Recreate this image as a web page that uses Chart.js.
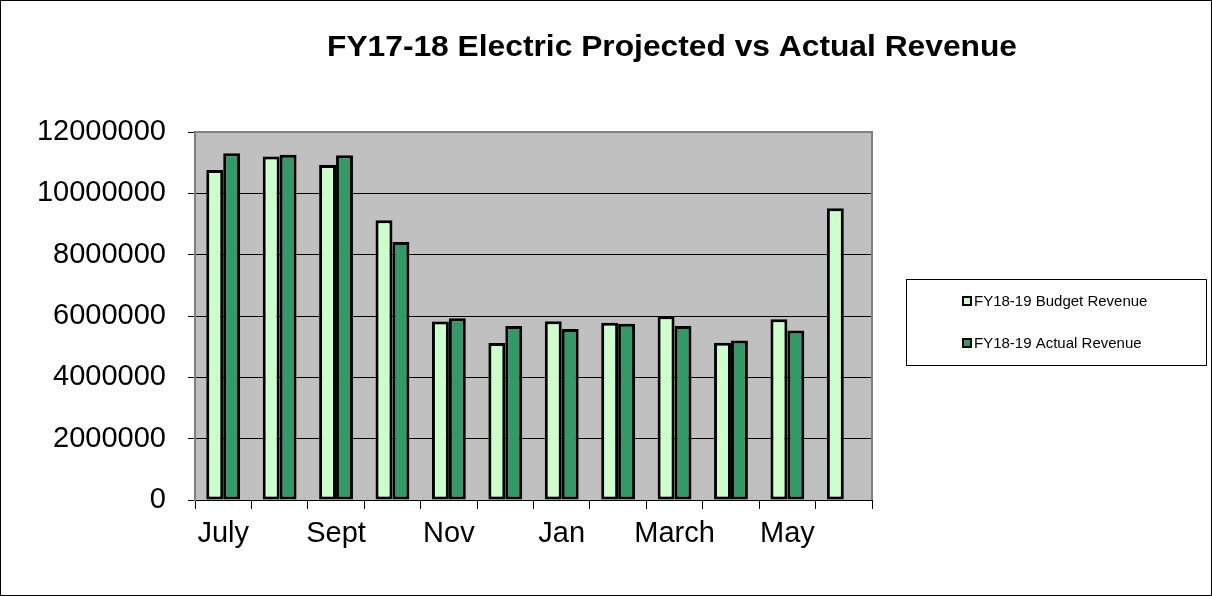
<!DOCTYPE html>
<html>
<head>
<meta charset="utf-8">
<script src="https://cdn.jsdelivr.net/npm/chart.js@4.4.0/dist/chart.umd.min.js"></script>
<style>
body { margin: 0; background: #fff; }
canvas { display: block; }
</style>
</head>
<body>
<canvas id="revenueChart" width="1212" height="596"></canvas>
<script>
// data
var months = ["July", "Aug", "Sept", "Oct", "Nov", "Dec", "Jan", "Feb", "March", "April", "May", "June"];
var budgetRevenue = [10760000, 11200000, 10920000, 9120000, 5820000, 5120000, 5830000, 5780000, 5990000, 5130000, 5890000, 9510000];
var actualRevenue = [11310000, 11260000, 11240000, 8410000, 5930000, 5670000, 5580000, 5750000, 5670000, 5200000, 5530000, null];
var seriesNames = ["FY18-19 Budget Revenue", "FY18-19 Actual Revenue"];
var chartTitle = "FY17-18 Electric Projected vs Actual Revenue";
var yMin = 0, yMax = 12000000, yStep = 2000000;

var font = "'Liberation Sans', Arial, sans-serif";

// gray plot background, border, title, legend box and outer frame
var decorations = {
	id: 'decorations',
	beforeDraw: function (chart) {
		var ctx = chart.ctx, a = chart.chartArea;
		ctx.save();
		ctx.fillStyle = '#fff';
		ctx.fillRect(0, 0, chart.width, chart.height);
		ctx.fillStyle = '#c0c0c0';
		ctx.fillRect(a.left, a.top, a.right - a.left, a.bottom - a.top);
		ctx.restore();
	},
	afterDraw: function (chart) {
		var ctx = chart.ctx, a = chart.chartArea;
		ctx.save();
		// plot border
		ctx.strokeStyle = '#808080';
		ctx.lineWidth = 2;
		ctx.beginPath();
		ctx.moveTo(a.left, a.top);
		ctx.lineTo(a.right, a.top);
		ctx.lineTo(a.right, a.bottom);
		ctx.stroke();
		// outer frame
		ctx.strokeStyle = '#000';
		ctx.lineWidth = 1;
		ctx.strokeRect(0.5, 0.5, chart.width - 1, chart.height - 1);
		// title, stretched a little wider like the original
		ctx.fillStyle = '#000';
		ctx.font = 'bold 29px ' + font;
		ctx.textAlign = 'left';
		ctx.textBaseline = 'alphabetic';
		var w = ctx.measureText(chartTitle).width;
		var sx = 690 / w;
		ctx.save();
		ctx.translate(327, 56);
		ctx.scale(sx, 1);
		ctx.fillText(chartTitle, 0, 0);
		ctx.restore();
		// legend
		ctx.strokeStyle = '#000';
		ctx.lineWidth = 1;
		ctx.strokeRect(906.5, 279.5, 300, 86);
		ctx.font = '15px ' + font;
		ctx.textAlign = 'left';
		ctx.textBaseline = 'middle';
		var rows = [301, 343];
		chart.data.datasets.forEach(function (ds, i) {
			var y = rows[i];
			ctx.fillStyle = ds.backgroundColor;
			ctx.fillRect(962, y - 5, 10, 10);
			ctx.lineWidth = 2;
			ctx.strokeRect(963, y - 4, 8, 8);
			ctx.fillStyle = '#000';
			ctx.fillText(ds.label, 974, y + 1);
		});
		ctx.restore();
	}
};

var ctx = document.getElementById('revenueChart').getContext('2d');
new Chart(ctx, {
	type: 'bar',
	data: {
		labels: months,
		datasets: [{
			label: seriesNames[0],
			data: budgetRevenue,
			backgroundColor: '#ccffcc',
			borderColor: '#000',
			borderWidth: 3,
			borderSkipped: false
		}, {
			label: seriesNames[1],
			data: actualRevenue,
			backgroundColor: '#339966',
			borderColor: '#000',
			borderWidth: 3,
			borderSkipped: false
		}]
	},
	options: {
		responsive: false,
		animation: false,
		datasets: {
			bar: {
				categoryPercentage: 0.6,
				barPercentage: 1
			}
		},
		layout: {
			padding: { top: 132, right: 340, left: 0, bottom: 0 }
		},
		plugins: {
			legend: { display: false },
			title: { display: false },
			tooltip: { enabled: false }
		},
		scales: {
			x: {
				afterFit: function (scale) { scale.height = 96; },
				border: { color: '#000', width: 1 },
				grid: {
					offset: true,
					drawOnChartArea: false,
					color: '#000',
					tickLength: 9
				},
				ticks: {
					autoSkip: false,
					maxRotation: 0,
					color: '#000',
					padding: 8,
					font: { family: font, size: 29 },
					callback: function (val, i) {
						return i % 2 === 0 ? months[i] : '';
					}
				}
			},
			y: {
				min: yMin,
				max: yMax,
				afterFit: function (scale) { scale.width = 195; },
				border: { color: '#808080', width: 2 },
				grid: {
					color: '#000',
					lineWidth: 1,
					tickLength: 7,
					tickColor: '#000'
				},
				ticks: {
					stepSize: yStep,
					color: '#000',
					padding: 22,
					font: { family: font, size: 29 },
					callback: function (val) { return String(val); }
				}
			}
		}
	},
	plugins: [decorations]
});
</script>
</body>
</html>
